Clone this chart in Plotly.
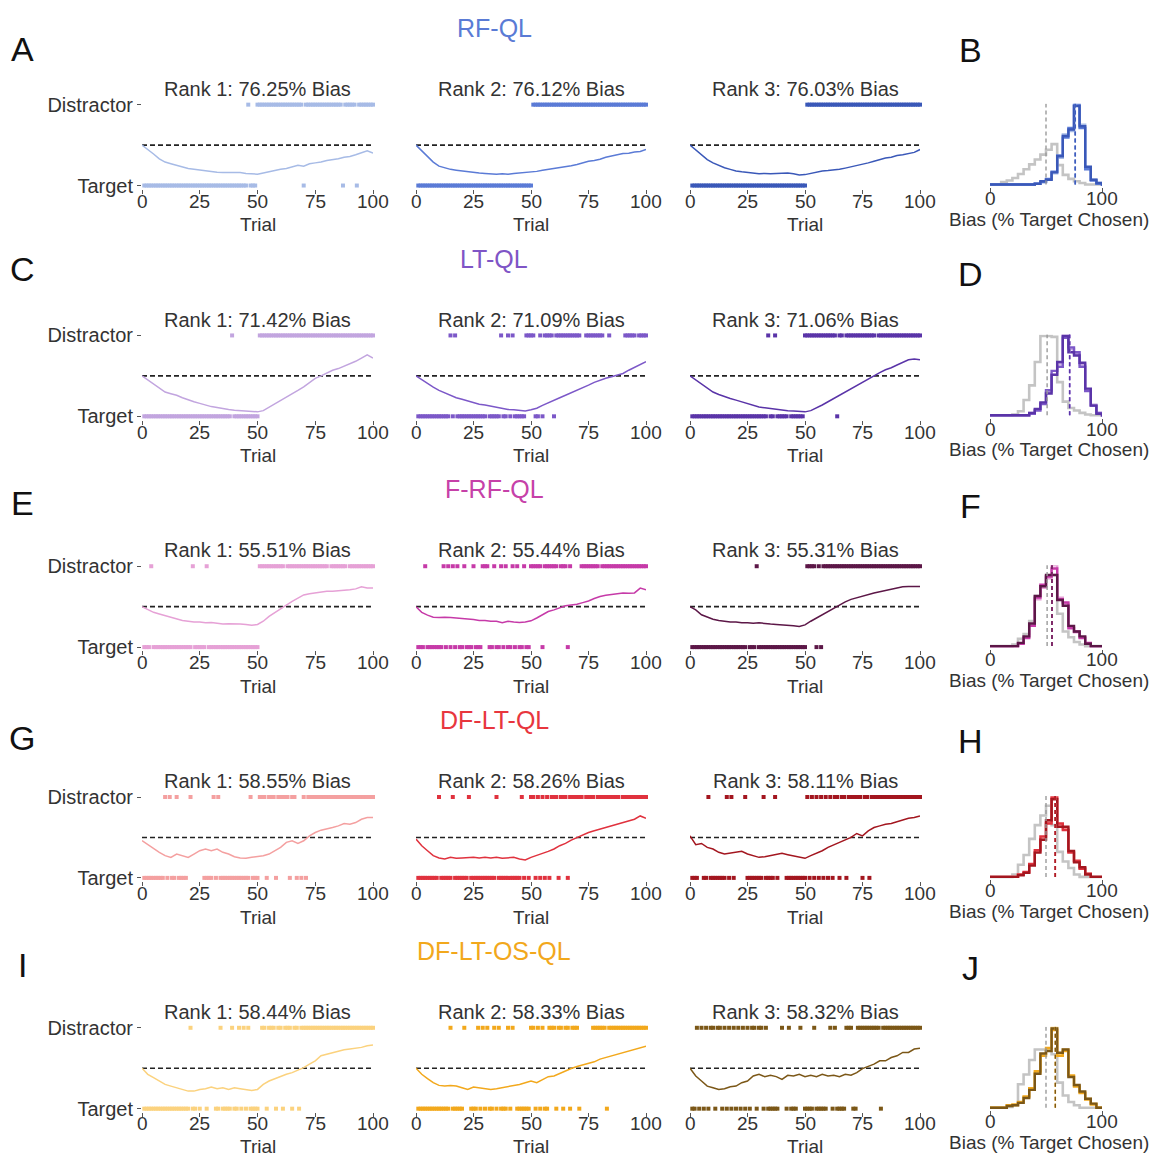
import plotly.graph_objects as go

W, H = 1155, 1165

# ---------------- data ----------------
MODELS = ["RF-QL", "LT-QL", "F-RF-QL", "DF-LT-QL", "DF-LT-OS-QL"]
TITLE_COLORS = ["#5a7bd5", "#7f55c6", "#c641a8", "#e8363e", "#f2a81c"]
RANK_COLORS = [
    ["#a7bbe6", "#5b7bd6", "#3a58b8"],
    ["#c2a5df", "#7c58c8", "#5a34a8"],
    ["#e6a1d6", "#c63aa8", "#5c1747"],
    ["#f4a0a0", "#e0323e", "#a3161f"],
    ["#fbd27e", "#f2a81c", "#7b5717"],
]
BIAS = [
    [76.25, 76.12, 76.03],
    [71.42, 71.09, 71.06],
    [55.51, 55.44, 55.31],
    [58.55, 58.26, 58.11],
    [58.44, 58.33, 58.32],
]
LEFT_LETTERS = ["A", "C", "E", "G", "I"]
RIGHT_LETTERS = ["B", "D", "F", "H", "J"]

Y_TICK_VALS = [0, 1]
Y_TICK_TEXT = ["Target", "Distractor"]
X_TICKS = [0, 25, 50, 75, 100]
HIST_TICKS = [0, 100]

# running line, sampled every 2.5 trials (0 .. 100)
LINE_X = [i * 2.5 for i in range(41)]

LINE_RF_QL = [
    [.50, .45, .39, .33, .29, .27, .25, .23, .21, .20, .19, .18, .17, .165, .16, .16, .155, .16, .15, .145, .14,
     .155, .17, .19, .20, .21, .23, .25, .24, .27, .28, .29, .31, .32, .33, .35, .36, .38, .41, .43, .40],
    [.50, .43, .36, .29, .24, .22, .20, .19, .18, .175, .16, .155, .15, .145, .14, .145, .14, .15, .155, .16, .17,
     .175, .19, .20, .21, .22, .235, .245, .26, .28, .30, .31, .325, .35, .365, .38, .395, .40, .415, .42, .445],
    [.50, .44, .38, .32, .28, .25, .22, .20, .18, .17, .16, .15, .145, .15, .145, .15, .15, .155, .145, .13, .135,
     .15, .165, .18, .185, .19, .20, .215, .23, .245, .26, .28, .30, .32, .34, .35, .37, .38, .395, .41, .445],
]
LINE_LT_QL = [
    [.50, .45, .39, .34, .30, .28, .26, .23, .20, .18, .16, .14, .12, .11, .095, .085, .075, .07, .065, .06, .055,
     .07, .11, .15, .20, .24, .28, .32, .365, .42, .47, .50, .54, .57, .59, .62, .655, .68, .72, .76, .72],
    [.50, .45, .41, .36, .32, .29, .26, .23, .21, .19, .165, .15, .14, .125, .115, .10, .085, .08, .075, .065, .08,
     .10, .135, .17, .20, .23, .26, .29, .32, .355, .385, .42, .45, .47, .49, .51, .53, .57, .605, .64, .675],
    [.50, .45, .39, .34, .30, .27, .24, .22, .20, .18, .16, .14, .115, .105, .095, .085, .075, .07, .065, .06, .055,
     .07, .10, .14, .18, .22, .26, .30, .345, .385, .43, .47, .51, .54, .575, .60, .635, .665, .70, .71, .70],
]
LINE_F_RF_QL = [
    [.50, .46, .43, .41, .39, .37, .35, .33, .32, .31, .31, .30, .305, .295, .285, .29, .29, .285, .28, .27, .28,
     .32, .38, .43, .48, .52, .565, .61, .645, .66, .67, .68, .69, .69, .695, .70, .71, .72, .745, .73, .73],
    [.50, .43, .395, .37, .365, .37, .365, .36, .35, .345, .34, .33, .33, .32, .32, .30, .32, .31, .305, .31, .325,
     .36, .40, .44, .46, .49, .51, .52, .53, .55, .57, .60, .625, .64, .65, .66, .67, .665, .67, .73, .71],
    [.50, .46, .40, .37, .345, .33, .32, .31, .31, .30, .30, .295, .30, .29, .285, .28, .275, .275, .265, .255, .275,
     .32, .36, .40, .435, .48, .525, .56, .59, .61, .635, .655, .67, .685, .70, .715, .73, .745, .75, .75, .75],
]
LINE_DF_LT_QL = [
    [.46, .41, .357, .316, .275, .254, .295, .275, .254, .295, .336, .357, .336, .357, .316, .295, .262, .246, .242,
     .254, .262, .275, .295, .336, .377, .439, .459, .426, .459, .52, .561, .59, .602, .623, .643, .672, .664, .684,
     .725, .746, .746],
    [.48, .398, .336, .275, .246, .234, .254, .242, .246, .254, .254, .246, .254, .246, .254, .242, .246, .254, .234,
     .221, .254, .275, .303, .328, .357, .398, .426, .467, .50, .533, .561, .582, .602, .623, .643, .664, .684, .705,
     .725, .766, .738],
    [.52, .41, .426, .377, .357, .316, .295, .303, .316, .328, .295, .275, .254, .262, .275, .295, .303, .287, .275,
     .254, .242, .275, .303, .336, .377, .41, .439, .467, .50, .549, .52, .582, .623, .643, .664, .672, .697, .713,
     .738, .746, .766],
]
LINE_DF_LT_OS_QL = [
    [.50, .425, .383, .342, .30, .279, .258, .238, .217, .217, .238, .246, .267, .246, .258, .238, .258, .246, .238,
     .225, .238, .30, .342, .371, .396, .425, .446, .475, .508, .55, .592, .654, .675, .696, .717, .729, .738, .746,
     .758, .779, .788],
    [.50, .425, .371, .321, .288, .279, .288, .279, .258, .238, .267, .258, .246, .238, .246, .258, .267, .279, .30,
     .321, .342, .321, .363, .396, .404, .438, .467, .496, .521, .538, .563, .579, .613, .633, .654, .675, .696, .717,
     .738, .754, .771],
    [.50, .404, .342, .279, .258, .238, .246, .271, .279, .321, .342, .404, .425, .396, .413, .396, .363, .413, .404,
     .425, .396, .413, .396, .425, .404, .413, .396, .425, .413, .446, .496, .521, .55, .592, .592, .633, .654, .696,
     .696, .738, .746],
]
LINES = [LINE_RF_QL, LINE_LT_QL, LINE_F_RF_QL, LINE_DF_LT_QL, LINE_DF_LT_OS_QL]

# choices per trial 1..100: '0' = Target, '1' = Distractor, '-' = no mark
CHOICES_RF_QL = [
    "0000000000 0000000000 0000000000 0000000000 0000010001 1111111111 1111111110 1111111111 1111110111 1101111111",
    "0000000000 0000000000 0000000000 0000000000 0000000000 1111111111 1111111111 1111111111 1111111111 1111111111",
    "0000000000 0000000000 0000000000 0000000000 0000000000 1111111111 1111111111 1111111111 1111111111 1111111111",
]
CHOICES_LT_QL = [
    "0000000000 0000000000 0000000000 0000000010 0000000000 1111111111 1111111111 1111111111 1111111111 1111111111",
    "0000000000 0000101000 0000000000 -000001001 0100000111 1001011110 1111111111 1--1111111 1--1------ 11111-1111",
    "0000000000 0000000000 0000000000 0001001000 00-0000001 1111111111 111011-111 1111111111 -111111111 1111111111",
]
CHOICES_F_RF_QL = [
    "0001000000 0000000000 0100000100 0000000000 0000000000 1111111111 1-11111111 1111111111 -1111111-1 1111111111",
    "0001000000 0101010100 1000100011 1001001010 0101001001 1111011111 1-11101--- -11111111- 1111111111 1111111111",
    "0000000000 0000000000 0000-00010 0000000000 0000000000 1111010111 1111111111 1111111111 1111111111 1111111111",
]
CHOICES_DF_LT_QL = [
    "0000000001 010010000- 1-----0000 1010000000 0000001000 1110111011 1110110-01 0111111111 1111111111 1111111111",
    "0000000001 0000010000 0010000000 0000100000 0000010-01 1010101011 1011101111 11-1111-11 11111111-1 1111111111",
    "000--00100 000001010- ---1000000 01000010-- -000000000 1010101010 1011011011 1111011011 1111111111 1111111111",
]
CHOICES_DF_LT_OS_QL = [
    "0000000000 0000000000 100-0--0-- -001000010 0101010000 -110111011 0111011011 1111111111 1111111111 1111111111",
    "0000000000 0000100000 1--0001010 1001010001 01-0000001 1010100111 0110110111 0-----1111 1101111111 1111111111",
    "0010101011 0110101010 1010101101 10100000-1 -01000-1-0 000100000- 1010000111 0011111111 1101111111 1111111111",
]
CHOICES = [CHOICES_RF_QL, CHOICES_LT_QL, CHOICES_F_RF_QL, CHOICES_DF_LT_QL, CHOICES_DF_LT_OS_QL]

# histograms: bins of 5 from 0 to 105, heights relative to the tallest bin
HIST_EDGES = [i * 5 for i in range(22)]
HIST_GRAY = [
    [0, 0, 3, 5, 8, 13, 19, 25, 31, 37, 43, 50, 24, 12, 7, 4, 2, 0, 0, 0, 0],
    [0, 0, 0, 0, 1, 5, 19, 37, 66, 98, 98, 97, 41, 17, 9, 6, 3, 1, 0, 0, 0],
    [0, 0, 0, 0, 2, 9, 15, 31, 62, 74, 86, 88, 40, 18, 11, 5, 2, 0, 0, 0, 0],
    [0, 0, 0, 0, 3, 15, 27, 47, 64, 76, 88, 64, 31, 19, 11, 3, 0, 0, 0, 0, 0],
    [0, 0, 0, 1, 3, 29, 41, 59, 72, 72, 72, 66, 31, 15, 7, 3, 0, 0, 0, 0, 0],
]
HIST_MODEL = [
    [[0, 0, 0, 0, 0, 0, 0, 0, 1, 3, 6, 14, 33, 62, 66, 98, 74, 21, 6, 2, 0],
     [0, 0, 0, 0, 0, 0, 0, 0, 1, 3, 7, 16, 36, 58, 70, 100, 70, 19, 5, 1, 0],
     [0, 0, 0, 0, 0, 0, 0, 0, 1, 4, 6, 15, 35, 60, 68, 97, 72, 22, 6, 2, 0]],
    [[0, 0, 0, 0, 0, 0, 0, 3, 7, 15, 29, 51, 64, 100, 82, 76, 63, 31, 13, 3, 0],
     [0, 0, 0, 0, 0, 0, 0, 2, 6, 14, 31, 55, 60, 96, 84, 78, 60, 30, 12, 3, 0],
     [0, 0, 0, 0, 0, 0, 0, 3, 8, 16, 27, 50, 66, 98, 78, 74, 65, 33, 12, 2, 0]],
    [[0, 0, 0, 0, 0, 3, 11, 27, 58, 72, 84, 100, 60, 52, 24, 17, 11, 3, 0, 0, 0],
     [0, 0, 0, 0, 0, 3, 10, 25, 60, 76, 86, 96, 58, 54, 22, 18, 10, 4, 0, 0, 0],
     [0, 0, 0, 0, 0, 4, 12, 28, 62, 74, 88, 88, 57, 50, 25, 18, 12, 3, 0, 0, 0]],
    [[0, 0, 0, 0, 0, 3, 5, 15, 31, 47, 68, 100, 64, 60, 31, 19, 11, 4, 0, 0, 0],
     [0, 0, 0, 0, 0, 3, 6, 16, 33, 50, 66, 98, 66, 58, 30, 20, 10, 4, 0, 0, 0],
     [0, 0, 0, 0, 0, 2, 5, 14, 30, 46, 70, 96, 62, 62, 32, 18, 12, 3, 0, 0, 0]],
    [[0, 0, 0, 3, 3, 6, 13, 23, 43, 66, 72, 100, 66, 72, 39, 27, 19, 11, 5, 0, 0],
     [0, 0, 0, 3, 4, 7, 14, 24, 45, 64, 74, 96, 64, 70, 40, 26, 18, 10, 4, 0, 0],
     [0, 0, 0, 2, 3, 6, 12, 22, 42, 67, 70, 98, 68, 72, 38, 28, 20, 11, 5, 0, 0]],
]
GRAY_MEAN = [50, 51, 51, 50, 50]
DASH_TOP = 105

# ---------------- layout (positions in page pixels) ----------------
FONT = "Liberation Sans, Arial, Helvetica, sans-serif"
TXT = "#333333"
ROW_STEP = 234
PX0 = [142, 416, 690]
PX1 = [373, 646, 920]
HX0, HX1 = 990, 1102
LEFT_LETTER_Y = [42, 265, 502, 740, 970]
RIGHT_LETTER_Y = [43, 270, 505, 743, 973]


def fx(px):
    return px / W


def fy(py):
    return 1 - py / H


fig = go.Figure()
layout = dict(width=W, height=H, margin=dict(l=0, r=0, t=0, b=0), autosize=False,
              paper_bgcolor="white", plot_bgcolor="white", showlegend=False,
              font=dict(family=FONT, size=20, color=TXT))
annotations = []
counter = [0]


def add_axes(xdom, ydom, xrng, yrng, xopt, yopt):
    counter[0] += 1
    n = counter[0]
    sx = "" if n == 1 else str(n)
    base = dict(showgrid=False, zeroline=False, showline=False, fixedrange=True)
    layout["xaxis" + sx] = dict(base, domain=xdom, range=xrng, anchor="y" + sx, **xopt)
    layout["yaxis" + sx] = dict(base, domain=ydom, range=yrng, anchor="x" + sx, **yopt)
    return "x" + sx, "y" + sx


def ann(text, px, py, size=20, color=TXT, yanchor="middle"):
    annotations.append(dict(text=text, x=fx(px), y=fy(py), xref="paper", yref="paper",
                            showarrow=False, xanchor="center", yanchor=yanchor,
                            font=dict(family=FONT, size=size, color=color)))


tick_mark = dict(ticks="outside", ticklen=4, tickwidth=1, tickcolor="#555555")

for r in range(5):
    off = ROW_STEP * r
    y_dist = 98 + off
    y_targ = 180 + off
    unit = y_targ - y_dist
    yr = [-0.04, 1.04]
    ydom = [fy(y_targ - yr[0] * unit), fy(y_dist - (yr[1] - 1) * unit)]
    ann(MODELS[r], 494, 20 + off, size=25, color=TITLE_COLORS[r])
    ann(LEFT_LETTERS[r], 22, LEFT_LETTER_Y[r], size=34, color="#111111")
    ann(RIGHT_LETTERS[r], 970, RIGHT_LETTER_Y[r], size=34, color="#111111")
    for c in range(3):
        col = RANK_COLORS[r][c]
        xopt = dict(tick_mark, tickvals=X_TICKS, showticklabels=False)
        if c == 0:
            yopt = dict(tick_mark, tickvals=Y_TICK_VALS, ticktext=Y_TICK_TEXT,
                        tickfont=dict(family=FONT, size=20, color=TXT))
        else:
            yopt = dict(showticklabels=False, ticks="")
        xr, yrr = add_axes([fx(PX0[c]), fx(PX1[c])], ydom, [0, 100], yr, xopt, yopt)
        fig.add_trace(go.Scatter(x=[0, 100], y=[0.5, 0.5], mode="lines", xaxis=xr, yaxis=yrr,
                                 line=dict(color="#222222", width=1.6, dash="5px,3px"),
                                 hoverinfo="skip"))
        fig.add_trace(go.Scatter(x=LINE_X, y=LINES[r][c], mode="lines", xaxis=xr, yaxis=yrr,
                                 line=dict(color=col, width=1.5), hoverinfo="skip"))
        s = CHOICES[r][c].replace(" ", "")
        tx = [i + 1 for i, ch in enumerate(s) if ch == "0"]
        dx = [i + 1 for i, ch in enumerate(s) if ch == "1"]
        fig.add_trace(go.Scatter(x=tx + dx, y=[0] * len(tx) + [1] * len(dx), mode="markers",
                                 xaxis=xr, yaxis=yrr, cliponaxis=False,
                                 marker=dict(color=col, size=4, symbol="square", line=dict(width=0)),
                                 hoverinfo="skip"))
        cx = (PX0[c] + PX1[c]) / 2
        ann(f"Rank {c + 1}: {BIAS[r][c]:.2f}% Bias", cx, 82 + off)
        tick_y = 196 + off if r < 4 else 1131
        for t in X_TICKS:
            ann(str(t), PX0[c] + (PX1[c] - PX0[c]) * t / 100, tick_y, size=19)
        trial_y = 220 + off if r < 4 else 1154
        ann("Trial", cx, trial_y, size=19)

    # histogram panel
    base_py = 179 + off
    top_py = 97 + off
    hunit = (base_py - top_py) / 100
    hyr = [-3, 100]
    hydom = [fy(base_py - hyr[0] * hunit), fy(top_py)]
    xopt = dict(tick_mark, tickvals=HIST_TICKS, showticklabels=False)
    yopt = dict(showticklabels=False, ticks="")
    xr, yrr = add_axes([fx(HX0), fx(HX1)], hydom, [0, 100], hyr, xopt, yopt)

    def step(vals):
        return HIST_EDGES, list(vals) + [vals[-1]]

    gx, gy = step(HIST_GRAY[r])
    fig.add_trace(go.Scatter(x=gx, y=gy, mode="lines", line_shape="hv", xaxis=xr, yaxis=yrr,
                             cliponaxis=False, line=dict(color="#c4c4c4", width=2.6),
                             hoverinfo="skip"))
    for c in range(3):
        mx, my = step(HIST_MODEL[r][c])
        fig.add_trace(go.Scatter(x=mx, y=my, mode="lines", line_shape="hv", xaxis=xr, yaxis=yrr,
                                 cliponaxis=False, line=dict(color=RANK_COLORS[r][c], width=2.4),
                                 hoverinfo="skip"))
    fig.add_trace(go.Scatter(x=[GRAY_MEAN[r], GRAY_MEAN[r]], y=[0, DASH_TOP], mode="lines",
                             xaxis=xr, yaxis=yrr, cliponaxis=False,
                             line=dict(color="#9a9a9a", width=1.4, dash="4px,3px"), hoverinfo="skip"))
    for c in range(3):
        fig.add_trace(go.Scatter(x=[BIAS[r][c], BIAS[r][c]], y=[0, DASH_TOP], mode="lines",
                                 xaxis=xr, yaxis=yrr, cliponaxis=False,
                                 line=dict(color=RANK_COLORS[r][c], width=1.4, dash="4px,3px"),
                                 hoverinfo="skip"))
    for t in HIST_TICKS:
        ann(str(t), HX0 + (HX1 - HX0) * t / 100, 193 + off, size=19)
    ann("Bias (% Target Chosen)", 1049, 214 + off, size=19)

layout["annotations"] = annotations
fig.update_layout(**layout)
fig.write_html("out.html", config={"displayModeBar": False},
               post_script="document.body.style.margin='0';"
                           "document.documentElement.style.overflow='hidden';")
